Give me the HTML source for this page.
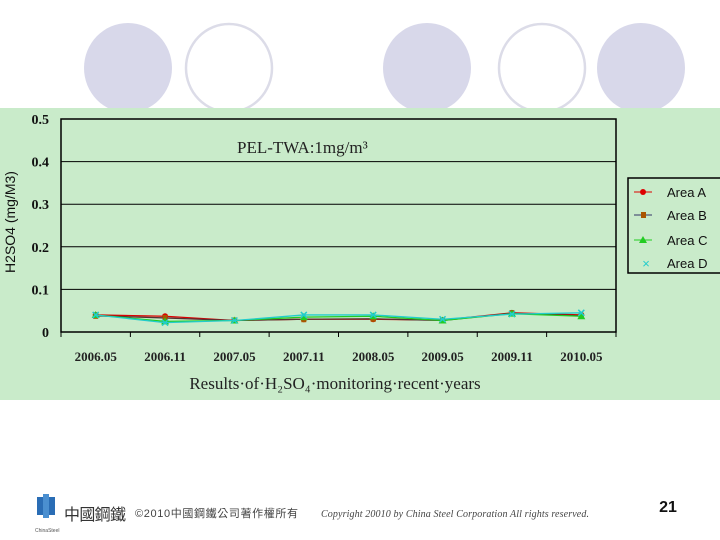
<!DOCTYPE html>
<html><head><meta charset="utf-8"><style>
body{margin:0;width:720px;height:540px;overflow:hidden;background:#fff;font-family:"Liberation Sans","Noto Sans CJK TC",sans-serif;position:relative}
.abs{position:absolute}
</style></head><body>
<svg class="abs" style="left:0;top:0" width="720" height="540">
  <g>
    <ellipse cx="128" cy="68" rx="44" ry="45" fill="#d8d8ea"/>
    <ellipse cx="229" cy="68" rx="43" ry="44" fill="#fff" stroke="#dcdce8" stroke-width="2.5"/>
    <ellipse cx="427" cy="68" rx="44" ry="45" fill="#d8d8ea"/>
    <ellipse cx="542" cy="68" rx="43" ry="44" fill="#fff" stroke="#dcdce8" stroke-width="2.5"/>
    <ellipse cx="641" cy="68" rx="44" ry="45" fill="#d8d8ea"/>
  </g>
  <rect x="0" y="108" width="720" height="292" fill="#c9ebca"/>
  <g id="chart"></g>
  <text x="237" y="153" font-family="Liberation Serif" font-size="17" fill="#222">PEL-TWA:1mg/m³</text>
  <text transform="translate(15,222) rotate(-90)" text-anchor="middle" font-size="14" fill="#111">H2SO4 (mg/M3)</text>
  <text x="335" y="389" text-anchor="middle" font-family="Liberation Serif" font-size="17" fill="#222">Results·of·H₂SO₄·monitoring·recent·years</text>
  <g>
    <rect x="628" y="178" width="94" height="95" fill="none" stroke="#000" stroke-width="1.5"/>
    <line x1="634" y1="192" x2="652" y2="192" stroke="#d00"/><circle cx="643" cy="192" r="3" fill="#d00"/>
    <text x="667" y="197" font-size="13" fill="#111">Area A</text>
    <line x1="634" y1="215" x2="652" y2="215" stroke="#336"/><rect x="641" y="212" width="5" height="6" fill="#a50"/>
    <text x="667" y="220" font-size="13" fill="#111">Area B</text>
    <line x1="634" y1="240" x2="652" y2="240" stroke="#2c2"/><polygon points="643,236 647,243 639,243" fill="#2c2"/>
    <text x="667" y="245" font-size="13" fill="#111">Area C</text>
    <text x="646" y="268" text-anchor="middle" font-size="13" fill="#2cc">×</text>
    <text x="667" y="268" font-size="13" fill="#111">Area D</text>
  </g>
  <g>
    <rect x="37" y="497" width="6" height="18" fill="#2a6db5"/><rect x="49" y="497" width="6" height="18" fill="#2a6db5"/>
    <rect x="43" y="494" width="6" height="24" fill="#4a8fd0"/>
    <text x="35" y="532" font-size="5" fill="#555">ChinaSteel</text>
    <text x="64" y="520" font-size="16" fill="#333" textLength="62">中國鋼鐵</text>
    <text x="135" y="517" font-size="11" fill="#444" textLength="163">©2010中國鋼鐵公司著作權所有</text>
    <text x="321" y="517" font-family="Liberation Serif" font-style="italic" font-size="10" fill="#444" textLength="268">Copyright 20010 by China Steel Corporation All rights reserved.</text>
    <text x="668" y="512" text-anchor="middle" font-weight="bold" font-size="16" fill="#111">21</text>
  </g>
</svg>
<script>
const categories=["2006.05","2006.11","2007.05","2007.11","2008.05","2009.05","2009.11","2010.05"];
const yTicks=[0,0.1,0.2,0.3,0.4,0.5];
const yTickLabels=["0","0.1","0.2","0.3","0.4","0.5"];
const areaA=[0.040,0.037,0.027,0.030,0.030,0.028,0.045,0.040];
const areaB=[0.038,0.033,0.027,0.030,0.031,0.027,0.044,0.038];
const areaC=[0.040,0.025,0.027,0.035,0.037,0.027,0.043,0.037];
const areaD=[0.040,0.022,0.027,0.040,0.040,0.030,0.042,0.045];
const L=61,R=616,T=119,B=332,NS="http://www.w3.org/2000/svg";
const g=document.getElementById('chart');
const bw=(R-L)/categories.length;
const x=i=>L+bw*(i+0.5);
const y=v=>B-(v/0.5)*(B-T);
function el(t,a){const e=document.createElementNS(NS,t);for(const k in a)e.setAttribute(k,a[k]);g.appendChild(e);return e;}
const pa=el('rect',{x:L,y:T,width:R-L,height:B-T,fill:'none',stroke:'#000','stroke-width':1.5});


yTicks.forEach((v,i)=>{
  if(v>0&&v<0.5){const gl=el('line',{x1:L,x2:R,y1:y(v),y2:y(v),stroke:'#000','stroke-width':1});
  
  }
  const t=el('text',{x:L-12,y:y(v)+5,'text-anchor':'end','font-family':'Liberation Serif','font-weight':'bold','font-size':14,fill:'#111'});
  t.textContent=yTickLabels[i];
  
  
});
for(let i=0;i<=categories.length;i++){el('line',{x1:L+bw*i,x2:L+bw*i,y1:B,y2:B+5,stroke:'#000'});}
categories.forEach((c,i)=>{
  const t=el('text',{x:x(i),y:361,'text-anchor':'middle','font-family':'Liberation Serif','font-weight':'bold','font-size':13,fill:'#222'});
  t.textContent=c;
  
  
});
const series=[[areaA,'#d00','circle'],[areaB,'#533','square'],[areaC,'#2c2','tri'],[areaD,'#2cc','x']];
series.forEach(([d,col,m],si)=>{
  const pl=el('polyline',{points:d.map((v,i)=>x(i)+','+y(v)).join(' '),fill:'none',stroke:col,'stroke-width':1.3});
  
  
  d.forEach((v,i)=>{
    let e;const cx=x(i),cy=y(v);
    if(m==='circle')e=el('circle',{cx,cy,r:3,fill:col});
    else if(m==='square')e=el('rect',{x:cx-2.5,y:cy-3,width:5,height:6,fill:'#a50'});
    else if(m==='tri')e=el('polygon',{points:`${cx},${cy-4} ${cx+4},${cy+3} ${cx-4},${cy+3}`,fill:col});
    else e=el('path',{d:`M${cx-3},${cy-3}L${cx+3},${cy+3}M${cx+3},${cy-3}L${cx-3},${cy+3}`,stroke:col,'stroke-width':1.5});
    
    
  });
});
</script>
</body></html>
